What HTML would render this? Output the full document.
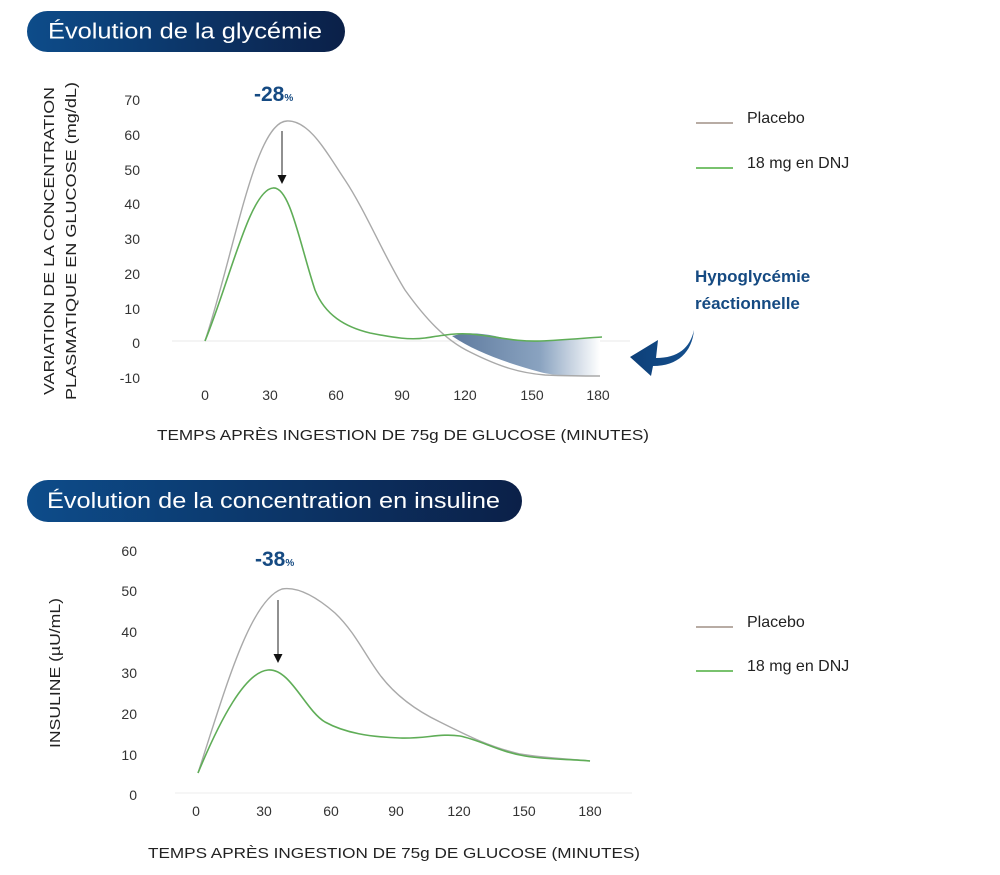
<!DOCTYPE html>
<html><head><meta charset="utf-8"><style>
html,body{margin:0;padding:0;background:#fff;}
svg{display:block;font-family:"Liberation Sans",sans-serif;}
</style></head><body>
<svg width="1000" height="875" viewBox="0 0 1000 875" xmlns="http://www.w3.org/2000/svg">
<defs>
<linearGradient id="ban" x1="0" x2="1" y1="0" y2="0"><stop offset="0" stop-color="#0d4c8a"/><stop offset="1" stop-color="#0b2048"/></linearGradient>
<linearGradient id="shade" x1="450" x2="600" y1="0" y2="0" gradientUnits="userSpaceOnUse"><stop offset="0" stop-color="#5e7a9e"/><stop offset="0.6" stop-color="#8aa3c0"/><stop offset="1" stop-color="#ffffff"/></linearGradient>
<linearGradient id="arr" x1="0" x2="1"><stop offset="0" stop-color="#0d3f78"/><stop offset="1" stop-color="#15508e"/></linearGradient>
</defs>
<rect x="27" y="11" width="318" height="41" rx="20.5" fill="url(#ban)"/>
<text x="48" y="38.5" font-size="22" fill="#fff" textLength="274" lengthAdjust="spacingAndGlyphs">Évolution de la glycémie</text>
<line x1="172" y1="341" x2="630" y2="341" stroke="#e8e8e8" stroke-width="1"/>
<g font-size="14" fill="#333" text-anchor="end">
<text x="140" y="105">70</text><text x="140" y="140">60</text><text x="140" y="175">50</text><text x="140" y="209">40</text><text x="140" y="244">30</text><text x="140" y="279">20</text><text x="140" y="314">10</text><text x="140" y="348">0</text><text x="140" y="383">-10</text>
</g>
<g font-size="14" fill="#333" text-anchor="middle">
<text x="205" y="400">0</text><text x="270" y="400">30</text><text x="336" y="400">60</text><text x="402" y="400">90</text><text x="465" y="400">120</text><text x="532" y="400">150</text><text x="598" y="400">180</text>
</g>
<text x="403" y="440" font-size="15" fill="#222" text-anchor="middle" textLength="492" lengthAdjust="spacingAndGlyphs">TEMPS APRÈS INGESTION DE 75g DE GLUCOSE (MINUTES)</text>
<text transform="translate(54,241) rotate(-90)" font-size="15" fill="#222" text-anchor="middle" textLength="308" lengthAdjust="spacingAndGlyphs">VARIATION DE LA CONCENTRATION</text>
<text transform="translate(76,241) rotate(-90)" font-size="15" fill="#222" text-anchor="middle" textLength="318" lengthAdjust="spacingAndGlyphs">PLASMATIQUE EN GLUCOSE (mg/dL)</text>
<path d="M452,336 C465,332 480,333 495,336 C515,341 530,342 545,341 C565,340 585,339 600,338 L600,376 C575,376 555,376 540,372 C510,364 475,352 452,336 Z" fill="url(#shade)"/>
<path d="M205,341 C235,250 255,122 287,121 C310,120 328,155 345,180 C365,210 385,258 405,290 C425,318 445,340 470,352 C500,367 520,373 545,375 C570,376 590,376 600,376" fill="none" stroke="#a9a9a9" stroke-width="1.4"/>
<path d="M205,341 C230,280 250,190 273,188 C290,186 300,245 315,290 C325,315 345,327 370,333 C395,338 410,340 425,338 C445,335 455,333 470,334 C495,336 515,342 540,341 C565,340 585,338 602,337" fill="none" stroke="#5fad57" stroke-width="1.6"/>
<line x1="282" y1="131" x2="282" y2="176" stroke="#222" stroke-width="1"/>
<path d="M277.5,175 L286.5,175 L282,184 Z" fill="#111"/>
<text x="254" y="101" font-size="21" font-weight="bold" fill="#154a82">-28<tspan font-size="10">%</tspan></text>
<line x1="696" y1="123" x2="733" y2="123" stroke="#b8aca4" stroke-width="2"/>
<text x="747" y="123" font-size="16" fill="#222">Placebo</text>
<line x1="696" y1="168" x2="733" y2="168" stroke="#79c26e" stroke-width="2"/>
<text x="747" y="168" font-size="16" fill="#222">18 mg en DNJ</text>
<text x="695" y="282" font-size="17" font-weight="bold" fill="#154a82">Hypoglycémie</text>
<text x="695" y="309" font-size="17" font-weight="bold" fill="#154a82">réactionnelle</text>
<path d="M694,330 C690,348 678,358 656,358 L658,340 L630,357 L651,376 L653,366 C678,366 692,352 694,330 Z" fill="url(#arr)"/>
<rect x="27" y="480" width="495" height="42" rx="21" fill="url(#ban)"/>
<text x="47" y="508" font-size="22" fill="#fff" textLength="453" lengthAdjust="spacingAndGlyphs">Évolution de la concentration en insuline</text>
<line x1="175" y1="793" x2="632" y2="793" stroke="#ececec" stroke-width="1"/>
<g font-size="14" fill="#333" text-anchor="end">
<text x="137" y="556">60</text><text x="137" y="596">50</text><text x="137" y="637">40</text><text x="137" y="678">30</text><text x="137" y="719">20</text><text x="137" y="760">10</text><text x="137" y="800">0</text>
</g>
<g font-size="14" fill="#333" text-anchor="middle">
<text x="196" y="816">0</text><text x="264" y="816">30</text><text x="331" y="816">60</text><text x="396" y="816">90</text><text x="459" y="816">120</text><text x="524" y="816">150</text><text x="590" y="816">180</text>
</g>
<text x="394" y="858" font-size="15" fill="#222" text-anchor="middle" textLength="492" lengthAdjust="spacingAndGlyphs">TEMPS APRÈS INGESTION DE 75g DE GLUCOSE (MINUTES)</text>
<text transform="translate(60,673) rotate(-90)" font-size="15" fill="#222" text-anchor="middle" textLength="150" lengthAdjust="spacingAndGlyphs">INSULINE (µU/mL)</text>
<path d="M198,773 C225,690 250,600 282,589 C300,586 320,600 335,613 C355,632 365,655 380,675 C395,695 415,710 440,722 C470,737 490,747 520,754 C550,759 575,759 590,761" fill="none" stroke="#a9a9a9" stroke-width="1.4"/>
<path d="M198,773 C220,720 245,672 268,670 C290,668 305,710 325,722 C345,733 370,737 400,738 C425,739 440,733 460,736 C480,740 500,752 525,756 C550,760 570,759 590,761" fill="none" stroke="#5fad57" stroke-width="1.6"/>
<line x1="278" y1="600" x2="278" y2="655" stroke="#222" stroke-width="1"/>
<path d="M273.5,654 L282.5,654 L278,663 Z" fill="#111"/>
<text x="255" y="566" font-size="21" font-weight="bold" fill="#154a82">-38<tspan font-size="10">%</tspan></text>
<line x1="696" y1="627" x2="733" y2="627" stroke="#b8aca4" stroke-width="2"/>
<text x="747" y="627" font-size="16" fill="#222">Placebo</text>
<line x1="696" y1="671" x2="733" y2="671" stroke="#79c26e" stroke-width="2"/>
<text x="747" y="671" font-size="16" fill="#222">18 mg en DNJ</text>
</svg>
</body></html>
